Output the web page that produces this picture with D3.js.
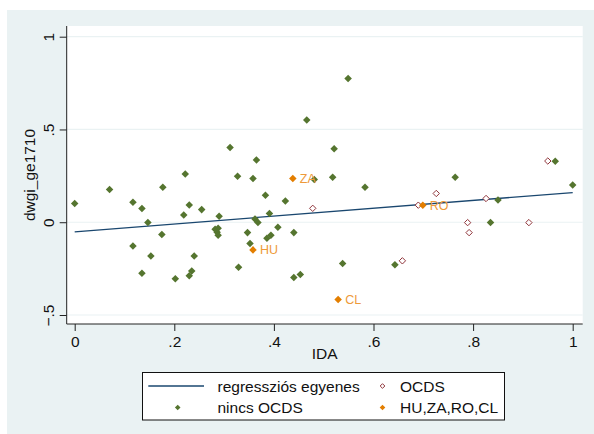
<!DOCTYPE html>
<html>
<head>
<meta charset="utf-8">
<script src="https://cdn.jsdelivr.net/npm/d3@7"></script>
<style>
  body { margin: 0; background: #fff; }
  svg text { font-family: "Liberation Sans", Arial, sans-serif; }
</style>
</head>
<body>
<div id="chart"></div>
<script>
// data: [IDA, dwgi_ge1710]
var nincsOcds = [
  [0.000, 0.101], [0.070, 0.176], [0.117, 0.108], [0.135, 0.074], [0.147, -0.002],
  [0.117, -0.128], [0.153, -0.182], [0.135, -0.275], [0.175, -0.066], [0.177, 0.189],
  [0.222, 0.260], [0.230, 0.093], [0.219, 0.039], [0.255, 0.068], [0.290, 0.032],
  [0.282, -0.038], [0.288, -0.032], [0.286, -0.054], [0.288, -0.070], [0.240, -0.182],
  [0.235, -0.263], [0.230, -0.289], [0.202, -0.304], [0.312, 0.403], [0.327, 0.248],
  [0.329, -0.243], [0.365, 0.336], [0.358, 0.236], [0.521, 0.396], [0.518, 0.243],
  [0.481, 0.230], [0.583, 0.189], [0.383, 0.146], [0.423, 0.115], [0.391, 0.047],
  [0.362, 0.018], [0.368, -0.002], [0.408, -0.027], [0.347, -0.056], [0.440, -0.056],
  [0.394, -0.070], [0.386, -0.086], [0.352, -0.115], [0.538, -0.223], [0.643, -0.229],
  [0.440, -0.298], [0.453, -0.282], [0.549, 0.775], [0.466, 0.551], [0.965, 0.329],
  [1.000, 0.201], [0.764, 0.243], [0.850, 0.120], [0.835, -0.002]
];
var ocds = [
  [0.478, 0.075], [0.658, -0.208], [0.690, 0.092], [0.726, 0.155], [0.826, 0.128],
  [0.789, -0.002], [0.792, -0.056], [0.912, -0.002], [0.950, 0.330]
];
var kiemelt = [
  {code: "HU", x: 0.358, y: -0.149},
  {code: "ZA", x: 0.438, y: 0.236},
  {code: "RO", x: 0.699, y: 0.092},
  {code: "CL", x: 0.529, y: -0.417}
];
// fitted line: intercept and slope
var fitLine = {a: -0.052, b: 0.212};
var xTicks = [0, 0.2, 0.4, 0.6, 0.8, 1];
var yTicks = [-0.5, 0, 0.5, 1];
var legendLabels = ["regressziós egyenes", "OCDS", "nincs OCDS", "HU,ZA,RO,CL"];

var W = 594, H = 434;
var navy = "#1a476f", maroon = "#90353b", green = "#55752f", orange = "#e37e00";
var bg = "#eaf2f3";

// plot region
var pr = {left: 66.7, right: 582.7, top: 26, bottom: 324};

var svg = d3.select("#chart")
  .append("svg")
    .attr("width", W)
    .attr("height", H);

svg.append("rect")
  .attr("x", 7).attr("y", 10)
  .attr("width", W - 7).attr("height", H - 10)
  .attr("fill", bg);

svg.append("rect")
  .attr("x", pr.left).attr("y", pr.top)
  .attr("width", pr.right - pr.left).attr("height", pr.bottom - pr.top)
  .attr("fill", "#fff");

var x = d3.scaleLinear().domain([0, 1]).range([74.7, 572.7]);
var y = d3.scaleLinear().domain([-0.5, 1]).range([315, 36.7]);

function fmt(v) {
  if (v === 0) return "0";
  if (v === 1) return "1";
  return d3.format(".1f")(v).replace("0.", ".");
}

// grid lines
svg.append("g")
  .selectAll("line")
  .data(yTicks)
  .enter()
  .append("line")
    .attr("x1", pr.left).attr("x2", pr.right)
    .attr("y1", function (d) { return y(d); })
    .attr("y2", function (d) { return y(d); })
    .attr("stroke", bg)
    .attr("stroke-width", 1.2);

// Y axis
var yAxis = svg.append("g")
  .attr("transform", "translate(" + pr.left + ",0)")
  .call(d3.axisLeft(y).tickValues(yTicks).tickFormat(fmt).tickSize(7).tickPadding(5));
yAxis.select(".domain").attr("d", "M0," + pr.top + "V" + pr.bottom).attr("stroke", "#222");
yAxis.selectAll(".tick line").attr("stroke", "#222");
yAxis.selectAll(".tick text")
  .attr("font-size", 15.5)
  .attr("fill", "#111")
  .attr("transform", "rotate(-90)")
  .attr("x", 0)
  .attr("y", function () { return -12; })
  .attr("text-anchor", "middle")
  .attr("dy", "0")
  .each(function (d) {
    // rotate around the tick position
    d3.select(this).attr("transform", "translate(-13,0) rotate(-90)").attr("x", 0).attr("y", 0);
  });

// X axis
var xAxis = svg.append("g")
  .attr("transform", "translate(0," + pr.bottom + ")")
  .call(d3.axisBottom(x).tickValues(xTicks).tickFormat(fmt).tickSize(7).tickPadding(5));
xAxis.select(".domain").attr("d", "M" + pr.left + ",0H" + pr.right).attr("stroke", "#222");
xAxis.selectAll(".tick line").attr("stroke", "#222");
xAxis.selectAll(".tick text").attr("font-size", 15.5).attr("fill", "#111");

// axis titles
svg.append("text")
  .attr("x", (pr.left + pr.right) / 2)
  .attr("y", 359)
  .attr("text-anchor", "middle")
  .attr("font-size", 15.5)
  .attr("fill", "#111")
  .text("IDA");

svg.append("text")
  .attr("transform", "translate(35," + ((pr.top + pr.bottom) / 2) + ") rotate(-90)")
  .attr("text-anchor", "middle")
  .attr("font-size", 15.5)
  .attr("fill", "#111")
  .text("dwgi_ge1710");

// regression line
svg.append("line")
  .attr("x1", x(0)).attr("y1", y(fitLine.a))
  .attr("x2", x(1)).attr("y2", y(fitLine.a + fitLine.b))
  .attr("stroke", navy)
  .attr("stroke-width", 1.3);

var diamond = d3.symbol().type(d3.symbolDiamond2);

// OCDS hollow markers
svg.append("g")
  .selectAll("path")
  .data(ocds)
  .enter()
  .append("path")
    .attr("transform", function (d) { return "translate(" + x(d[0]) + "," + y(d[1]) + ")"; })
    .attr("d", diamond.size(26))
    .attr("fill", "#fff")
    .attr("stroke", maroon)
    .attr("stroke-width", 1);

// nincs OCDS
svg.append("g")
  .selectAll("path")
  .data(nincsOcds)
  .enter()
  .append("path")
    .attr("transform", function (d) { return "translate(" + x(d[0]) + "," + y(d[1]) + ")"; })
    .attr("d", diamond.size(36))
    .attr("fill", green);

// HU, ZA, RO, CL
var hl = svg.append("g")
  .selectAll("g")
  .data(kiemelt)
  .enter()
  .append("g")
    .attr("transform", function (d) { return "translate(" + x(d.x) + "," + y(d.y) + ")"; });
hl.append("path")
  .attr("d", diamond.size(36))
  .attr("fill", orange);
hl.append("text")
  .attr("x", 7)
  .attr("dy", "0.36em")
  .attr("font-size", 12.5)
  .attr("fill", "#ee9a3a")
  .text(function (d) { return d.code; });

// legend
var lg = svg.append("g");
lg.append("rect")
  .attr("x", 142.5).attr("y", 372.5)
  .attr("width", 362).attr("height", 47.5)
  .attr("fill", "#fff")
  .attr("stroke", "#111")
  .attr("stroke-width", 1);

var rows = [386, 407.5];
lg.append("line")
  .attr("x1", 148.3).attr("x2", 204)
  .attr("y1", rows[0]).attr("y2", rows[0])
  .attr("stroke", navy).attr("stroke-width", 1.3);
lg.append("path")
  .attr("transform", "translate(177.7," + rows[1] + ")")
  .attr("d", diamond.size(20))
  .attr("fill", green);
lg.append("path")
  .attr("transform", "translate(382.5," + rows[0] + ")")
  .attr("d", diamond.size(14))
  .attr("fill", "#fff").attr("stroke", maroon).attr("stroke-width", 1);
lg.append("path")
  .attr("transform", "translate(382.5," + rows[1] + ")")
  .attr("d", diamond.size(20))
  .attr("fill", orange);

var legendPos = [[217.5, rows[0]], [400, rows[0]], [217.5, rows[1]], [400, rows[1]]];
lg.selectAll("text.lab")
  .data(legendLabels)
  .enter()
  .append("text")
    .attr("class", "lab")
    .attr("x", function (d, i) { return legendPos[i][0]; })
    .attr("y", function (d, i) { return legendPos[i][1]; })
    .attr("dy", "0.36em")
    .attr("font-size", 15.5)
    .attr("fill", "#111")
    .text(function (d) { return d; });
</script>
</body>
</html>
